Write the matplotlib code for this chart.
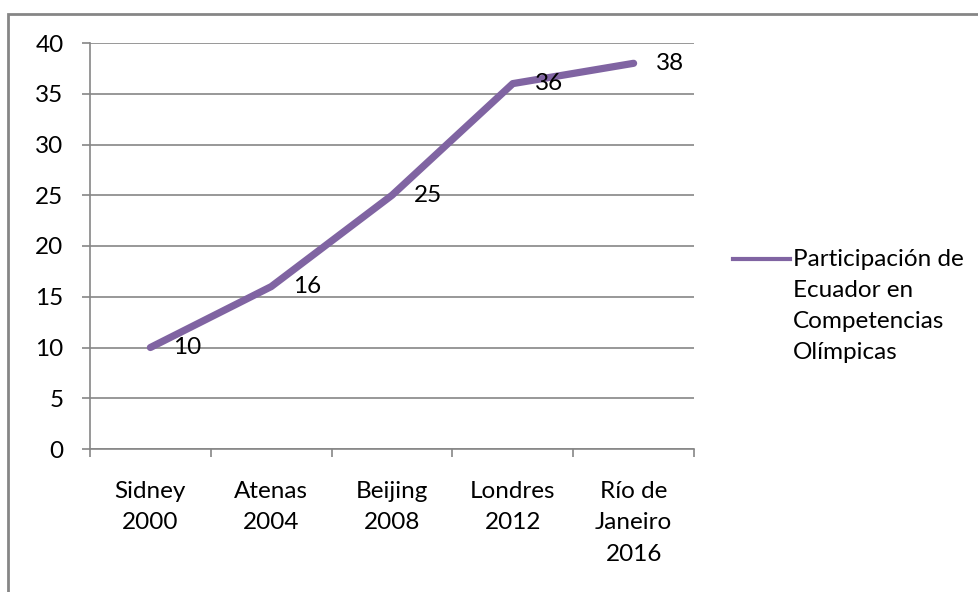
import matplotlib
matplotlib.use("Agg")
import matplotlib.pyplot as plt
from matplotlib.lines import Line2D
from matplotlib.patches import Rectangle

categories = ["Sidney\n2000", "Atenas\n2004", "Beijing\n2008", "Londres\n2012", "Río de\nJaneiro\n2016"]
values = [10, 16, 25, 36, 38]
series_name = "Participación de\nEcuador en\nCompetencias\nOlímpicas"

plt.rcParams['font.family'] = ['Lato', 'DejaVu Sans']
FS = 17.5
GRAY = '#868686'
PURPLE = '#8064A2'

W, H = 979, 592
fig = plt.figure(figsize=(W/100, H/100), dpi=100)
ax = fig.add_axes([90/W, 1-449/H, (694-90)/W, (449-43)/H])

x = list(range(len(values)))
ax.plot(x, values, color=PURPLE, lw=5.2, solid_capstyle='round', solid_joinstyle='round', zorder=3)
for xi, v in zip(x, values):
    ax.annotate(str(v), (xi, v), xytext=(16, 0), textcoords='offset points',
                ha='left', va='center', fontsize=FS, color='black', zorder=4)

ax.set_xlim(-0.5, len(values)-0.5)
ax.set_ylim(0, 40)
ax.set_yticks(range(0, 41, 5))
ax.yaxis.grid(True, color=GRAY, lw=1.2)
ax.set_axisbelow(True)
ax.set_xticks(x)
ax.set_xticklabels(categories, fontsize=FS, linespacing=1.61)
ax.set_xticks([i-0.5 for i in range(len(values)+1)], minor=True)
ax.tick_params(axis='x', which='major', length=0, pad=23)
ax.tick_params(axis='x', which='minor', length=6, color=GRAY, width=1.2)
ax.tick_params(axis='y', length=6, color=GRAY, width=1.2, pad=13, labelsize=FS)
for s in ['top', 'right']:
    ax.spines[s].set_visible(False)
for s in ['left', 'bottom']:
    ax.spines[s].set_color(GRAY)
    ax.spines[s].set_linewidth(1.2)

# legend
ly = 1-259/H
fig.add_artist(Line2D([733/W, 790/W], [ly, ly], color=PURPLE, lw=3, transform=fig.transFigure))
fig.text(793/W, 1-249/H, series_name, fontsize=FS, va='top', ha='left', linespacing=1.58)

# chart border
fig.add_artist(Rectangle((8.5/W, -0.1), 1.2, 1-13.5/H+0.1, fill=False, edgecolor=GRAY, lw=2,
                         transform=fig.transFigure))

fig.savefig("out.png", dpi=100)
